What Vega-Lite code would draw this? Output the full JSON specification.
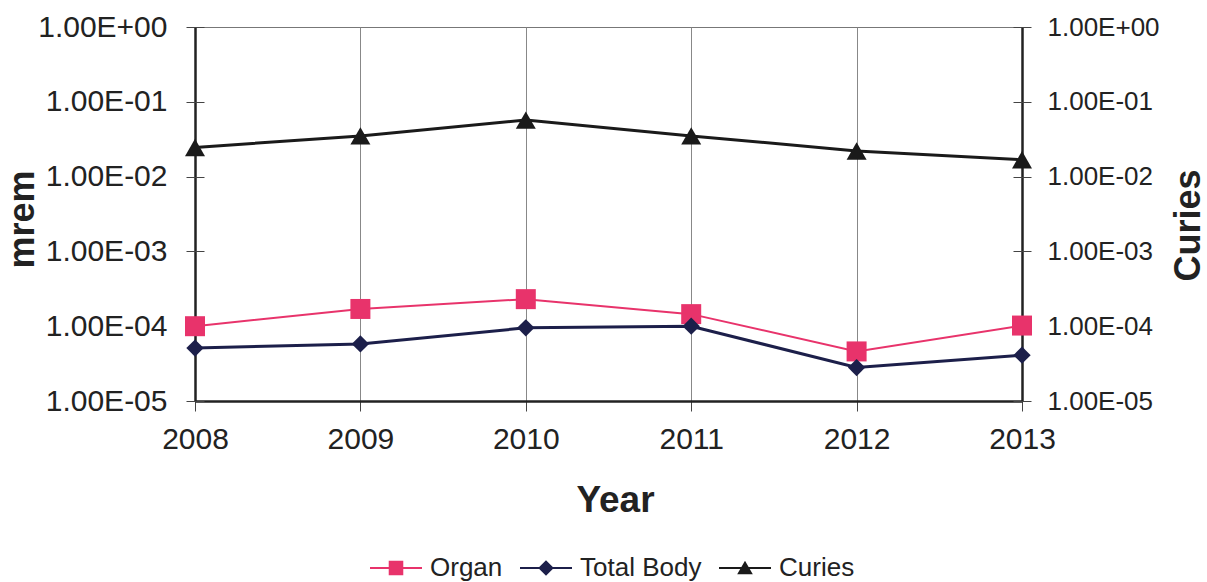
{
  "$schema": "https://vega.github.io/schema/vega-lite/v6.json",
  "width": 827,
  "height": 374,
  "autosize": "none",
  "padding": {"left": 195, "top": 27, "right": 185, "bottom": 181},
  "background": "white",
  "config": {
    "font": "Liberation Sans",
    "view": {"stroke": "#777", "strokeWidth": 1},
    "axis": {"labelColor": "#222", "titleColor": "#222", "labelFont": "Liberation Sans", "titleFont": "Liberation Sans"}
  },
  "data": {
    "values": [
      {"year": 2008, "series": "Organ", "value": 0.000100},
      {"year": 2009, "series": "Organ", "value": 0.000170},
      {"year": 2010, "series": "Organ", "value": 0.000230},
      {"year": 2011, "series": "Organ", "value": 0.000145},
      {"year": 2012, "series": "Organ", "value": 0.000046},
      {"year": 2013, "series": "Organ", "value": 0.000102},
      {"year": 2008, "series": "Total Body", "value": 0.000051},
      {"year": 2009, "series": "Total Body", "value": 0.000058},
      {"year": 2010, "series": "Total Body", "value": 0.000095},
      {"year": 2011, "series": "Total Body", "value": 0.000100},
      {"year": 2012, "series": "Total Body", "value": 0.000028},
      {"year": 2013, "series": "Total Body", "value": 0.000041},
      {"year": 2008, "series": "Curies", "value": 0.0245},
      {"year": 2009, "series": "Curies", "value": 0.035},
      {"year": 2010, "series": "Curies", "value": 0.057},
      {"year": 2011, "series": "Curies", "value": 0.035},
      {"year": 2012, "series": "Curies", "value": 0.022},
      {"year": 2013, "series": "Curies", "value": 0.0168}
    ]
  },
  "encoding": {
    "x": {
      "field": "year",
      "type": "quantitative",
      "scale": {"domain": [2008, 2013], "nice": false, "zero": false},
      "axis": {
        "values": [2008, 2009, 2010, 2011, 2012, 2013],
        "format": "d",
        "labelFlush": false,
        "labelOverlap": false,
        "labelFontSize": 30,
        "labelPadding": 13,
        "tickSize": 10,
        "tickColor": "#444",
        "domainColor": "#222",
        "domainWidth": 2.5,
        "grid": true,
        "gridColor": {"condition": {"test": "datum.value === 2008 || datum.value === 2013", "value": "#222"}, "value": "#888"},
        "gridWidth": {"condition": {"test": "datum.value === 2008 || datum.value === 2013", "value": 2.5}, "value": 1},
        "gridOpacity": 1,
        "title": "Year",
        "titleFontSize": 37,
        "titleFontWeight": "bold",
        "titleX": 420,
        "titleY": 99,
        "titleBaseline": "middle",
        "titleAlign": "center"
      }
    }
  },
  "layer": [
    {
      "transform": [{"filter": "datum.series !== 'Curies'"}],
      "encoding": {
        "y": {
          "field": "value",
          "type": "quantitative",
          "scale": {"type": "log", "domain": [0.00001, 1], "nice": false},
          "axis": {
            "orient": "left",
            "values": [0.00001, 0.0001, 0.001, 0.01, 0.1, 1],
            "labelExpr": "'1.00E' + (datum.value >= 0.5 ? '+00' : '-0' + format(round(-log(datum.value)/LN10), 'd'))",
            "domain": false,
            "grid": false,
            "tickSize": 18,
            "offset": -9,
            "tickColor": "#444",
            "labelFontSize": 30,
            "labelPadding": 19,
            "title": "mrem",
            "titleFontSize": 36,
            "titleFontWeight": "bold",
            "titleX": -182,
            "titleY": 192,
            "titleAngle": -90,
            "titleBaseline": "middle",
            "titleAlign": "center"
          }
        }
      },
      "layer": [
        {
          "transform": [{"filter": "datum.series === 'Organ'"}],
          "mark": {"type": "line", "color": "#e8336b", "strokeWidth": 2},
          "encoding": {}
        },
        {
          "transform": [{"filter": "datum.series === 'Total Body'"}],
          "mark": {"type": "line", "color": "#1c1f4a", "strokeWidth": 3},
          "encoding": {}
        },
        {
          "transform": [{"filter": "datum.series === 'Organ'"}],
          "mark": {"type": "point", "filled": true, "opacity": 1, "shape": "square", "size": 400, "color": "#e8336b"},
          "encoding": {}
        },
        {
          "transform": [{"filter": "datum.series === 'Total Body'"}],
          "mark": {"type": "point", "filled": true, "opacity": 1, "shape": "diamond", "size": 300, "color": "#1c1f4a"},
          "encoding": {}
        },
        {
          "mark": {"type": "point", "filled": true, "opacity": 0},
          "encoding": {
            "color": {
              "field": "series",
              "type": "nominal",
              "scale": {"domain": ["Organ", "Total Body", "Curies"], "range": ["#e8336b", "#1c1f4a", "#1a1a1a"]},
              "legend": {
                "title": null,
                "orient": "none",
                "legendX": 175,
                "legendY": 515,
                "direction": "horizontal",
                "symbolSize": 2704,
                "symbolOpacity": 1,
                "symbolStrokeWidth": 0,
                "labelFontSize": 26,
                "labelFont": "Liberation Sans",
                "labelColor": "#222",
                "labelOffset": 8,
                "columnPadding": 17
              }
            },
            "shape": {
              "field": "series",
              "type": "nominal",
              "scale": {
                "domain": ["Organ", "Total Body", "Curies"],
                "range": [
                  "M-1,-0.04H1V0.04H-1Z M-0.28,-0.28H0.28V0.28H-0.28Z",
                  "M-1,-0.04H1V0.04H-1Z M0,-0.3L0.3,0L0,0.3L-0.3,0Z",
                  "M-1,-0.04H1V0.04H-1Z M0,-0.28L0.3,0.24H-0.3Z"
                ]
              },
              "legend": {
                "title": null,
                "orient": "none",
                "legendX": 175,
                "legendY": 515,
                "direction": "horizontal",
                "symbolSize": 2704,
                "symbolOpacity": 1,
                "symbolStrokeWidth": 0,
                "labelFontSize": 26,
                "labelFont": "Liberation Sans",
                "labelColor": "#222",
                "labelOffset": 8,
                "columnPadding": 17
              }
            }
          }
        }
      ]
    },
    {
      "transform": [{"filter": "datum.series === 'Curies'"}],
      "encoding": {
        "y": {
          "field": "value",
          "type": "quantitative",
          "scale": {"type": "log", "domain": [0.00001, 1], "nice": false},
          "axis": {
            "orient": "right",
            "values": [0.00001, 0.0001, 0.001, 0.01, 0.1, 1],
            "labelExpr": "'1.00E' + (datum.value >= 0.5 ? '+00' : '-0' + format(round(-log(datum.value)/LN10), 'd'))",
            "domain": false,
            "grid": false,
            "tickSize": 18,
            "offset": -9,
            "tickColor": "#444",
            "labelFontSize": 26,
            "labelPadding": 16,
            "title": "Curies",
            "titleFontSize": 36,
            "titleFontWeight": "bold",
            "titleX": 175,
            "titleY": 198,
            "titleAngle": -90,
            "titleBaseline": "middle",
            "titleAlign": "center"
          }
        }
      },
      "layer": [
        {
          "mark": {"type": "line", "color": "#1a1a1a", "strokeWidth": 3},
          "encoding": {}
        },
        {
          "mark": {"type": "point", "filled": true, "opacity": 1, "shape": "triangle-up", "size": 400, "color": "#1a1a1a"},
          "encoding": {}
        }
      ]
    }
  ],
  "resolve": {"scale": {"y": "independent"}}
}
